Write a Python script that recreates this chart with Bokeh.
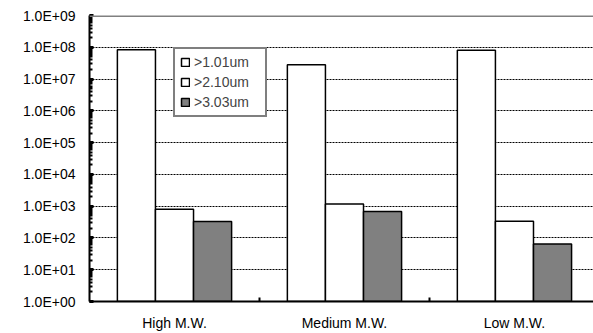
from bokeh.plotting import figure
from bokeh.models import (ColumnDataSource, FixedTicker, LogTicker, Span, Legend, LegendItem,
                          CustomJSTickFormatter, Range1d)
from bokeh.embed import file_html
from bokeh.resources import INLINE

categories = ["High M.W.", "Medium M.W.", "Low M.W."]
series_names = [">1.01um", ">2.10um", ">3.03um"]
s1 = [8.4e7, 2.8e7, 8.0e7]
s2 = [800, 1180, 335]
s3 = [330, 680, 65]
colors = ["white", "white", "#808080"]

FONT = "Liberation Sans"
p = figure(width=593, height=333, y_axis_type="log", output_backend="svg",
           toolbar_location=None, x_range=Range1d(0, 2.965), y_range=Range1d(1, 1e9),
           min_border_left=89, min_border_right=0, min_border_top=15, min_border_bottom=32)
p.outline_line_color = None
p.background_fill_color = "white"

bw = 0.224
centers = [i + 0.5 for i in range(len(categories))]
renderers = []
for k, (vals, col) in enumerate(zip([s1, s2, s3], colors)):
    xs = [c + (k - 1) * bw for c in centers]
    src = ColumnDataSource(dict(x=xs, top=vals))
    r = p.vbar(x="x", top="top", bottom=1, width=bw, source=src, fill_color=col,
               line_color="black", line_width=1.5)
    renderers.append(r)

# grid
p.xgrid.grid_line_color = None
p.ygrid.grid_line_color = "black"
p.ygrid.grid_line_dash = "2 1"
p.ygrid.grid_line_width = 1
p.ygrid.minor_grid_line_color = None

p.add_layout(Span(location=1e9, dimension="width", line_color="#808080", line_width=3))

# y axis
ya = p.yaxis[0]
ya.ticker = LogTicker(num_minor_ticks=10)
ya.formatter = CustomJSTickFormatter(code="""
const e = Math.round(Math.log10(tick));
return '1.0E+' + (e < 10 ? '0' : '') + e;""")
ya.axis_line_width = 2
ya.axis_line_color = "black"
ya.major_tick_in = 4
ya.major_tick_out = 0
ya.major_tick_line_width = 3
ya.minor_tick_in = 3
ya.minor_tick_out = 0
ya.minor_tick_line_width = 2
ya.major_label_text_font = FONT
ya.major_label_text_font_size = "14px"
ya.major_label_text_color = "black"
ya.major_label_standoff = 14

# x axis
xa = p.xaxis[0]
xa.ticker = FixedTicker(ticks=centers, minor_ticks=[1, 2])
xa.major_label_overrides = {c: lab for c, lab in zip(centers, categories)}
xa.axis_line_width = 2
xa.axis_line_color = "black"
xa.major_tick_in = 0
xa.major_tick_out = 0
xa.minor_tick_in = 4
xa.minor_tick_out = 0
xa.minor_tick_line_width = 2
xa.major_label_text_font = FONT
xa.major_label_text_font_size = "14px"
xa.major_label_text_color = "black"
xa.major_label_standoff = 13

legend = Legend(items=[LegendItem(label=n, renderers=[r]) for n, r in zip(series_names, renderers)],
                location=(84, 184))
legend.border_line_color = "black"
legend.border_line_width = 2
legend.background_fill_color = "white"
legend.background_fill_alpha = 1
legend.label_text_font = FONT
legend.label_text_font_size = "14px"
legend.label_standoff = 4
legend.glyph_width = 10
legend.glyph_height = 10
legend.spacing = 4
legend.padding = 5
legend.margin = 0
legend.label_height = 14
legend.label_width = 66
p.add_layout(legend, "center")

open("out.html", "w").write(file_html(p, INLINE))
